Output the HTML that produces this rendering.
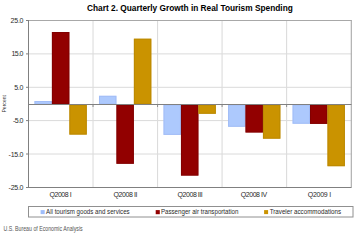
<!DOCTYPE html>
<html><head><meta charset="utf-8"><style>
html,body{margin:0;padding:0;background:#fff;}
body{width:355px;height:234px;position:relative;overflow:hidden;}
</style></head><body>
<svg width="355" height="234" style="position:absolute;left:0;top:0" font-family="Liberation Sans, sans-serif">
<line x1="28" y1="53.9" x2="351.5" y2="53.9" stroke="#DADADA" stroke-width="1"/><line x1="28" y1="87.3" x2="351.5" y2="87.3" stroke="#DADADA" stroke-width="1"/><line x1="28" y1="120.6" x2="351.5" y2="120.6" stroke="#DADADA" stroke-width="1"/><line x1="28" y1="154.0" x2="351.5" y2="154.0" stroke="#DADADA" stroke-width="1"/><line x1="93.03" y1="20.5" x2="93.03" y2="187.5" stroke="#DCDCDC" stroke-width="1.1"/><line x1="157.55" y1="20.5" x2="157.55" y2="187.5" stroke="#DCDCDC" stroke-width="1.1"/><line x1="222.08" y1="20.5" x2="222.08" y2="187.5" stroke="#DCDCDC" stroke-width="1.1"/><line x1="286.60" y1="20.5" x2="286.60" y2="187.5" stroke="#DCDCDC" stroke-width="1.1"/>
<rect x="34.46" y="101.00" width="17.45" height="3.50" fill="#ADC9FD"/><rect x="34.96" y="101.50" width="16.45" height="2.50" fill="none" stroke="#9CB8F4" stroke-width="1" stroke-opacity="0.7"/><rect x="51.91" y="32.00" width="17.45" height="72.50" fill="#920000"/><rect x="52.41" y="32.50" width="16.45" height="71.50" fill="none" stroke="#7C0000" stroke-width="1" stroke-opacity="0.7"/><rect x="69.36" y="104.50" width="17.45" height="30.10" fill="#CA9300"/><rect x="69.86" y="105.00" width="16.45" height="29.10" fill="none" stroke="#B58400" stroke-width="1" stroke-opacity="0.7"/><rect x="98.98" y="95.80" width="17.45" height="8.70" fill="#ADC9FD"/><rect x="99.48" y="96.30" width="16.45" height="7.70" fill="none" stroke="#9CB8F4" stroke-width="1" stroke-opacity="0.7"/><rect x="116.44" y="104.50" width="17.45" height="59.30" fill="#920000"/><rect x="116.94" y="105.00" width="16.45" height="58.30" fill="none" stroke="#7C0000" stroke-width="1" stroke-opacity="0.7"/><rect x="133.88" y="38.70" width="17.45" height="65.80" fill="#CA9300"/><rect x="134.38" y="39.20" width="16.45" height="64.80" fill="none" stroke="#B58400" stroke-width="1" stroke-opacity="0.7"/><rect x="163.51" y="104.50" width="17.45" height="30.40" fill="#ADC9FD"/><rect x="164.01" y="105.00" width="16.45" height="29.40" fill="none" stroke="#9CB8F4" stroke-width="1" stroke-opacity="0.7"/><rect x="180.96" y="104.50" width="17.45" height="71.10" fill="#920000"/><rect x="181.46" y="105.00" width="16.45" height="70.10" fill="none" stroke="#7C0000" stroke-width="1" stroke-opacity="0.7"/><rect x="198.41" y="104.50" width="17.45" height="9.30" fill="#CA9300"/><rect x="198.91" y="105.00" width="16.45" height="8.30" fill="none" stroke="#B58400" stroke-width="1" stroke-opacity="0.7"/><rect x="228.04" y="104.50" width="17.45" height="22.30" fill="#ADC9FD"/><rect x="228.54" y="105.00" width="16.45" height="21.30" fill="none" stroke="#9CB8F4" stroke-width="1" stroke-opacity="0.7"/><rect x="245.49" y="104.50" width="17.45" height="28.00" fill="#920000"/><rect x="245.99" y="105.00" width="16.45" height="27.00" fill="none" stroke="#7C0000" stroke-width="1" stroke-opacity="0.7"/><rect x="262.94" y="104.50" width="17.45" height="34.20" fill="#CA9300"/><rect x="263.44" y="105.00" width="16.45" height="33.20" fill="none" stroke="#B58400" stroke-width="1" stroke-opacity="0.7"/><rect x="292.56" y="104.50" width="17.45" height="19.25" fill="#ADC9FD"/><rect x="293.06" y="105.00" width="16.45" height="18.25" fill="none" stroke="#9CB8F4" stroke-width="1" stroke-opacity="0.7"/><rect x="310.01" y="104.50" width="17.45" height="19.40" fill="#920000"/><rect x="310.51" y="105.00" width="16.45" height="18.40" fill="none" stroke="#7C0000" stroke-width="1" stroke-opacity="0.7"/><rect x="327.46" y="104.50" width="17.45" height="61.70" fill="#CA9300"/><rect x="327.96" y="105.00" width="16.45" height="60.70" fill="none" stroke="#B58400" stroke-width="1" stroke-opacity="0.7"/>
<line x1="28" y1="20.5" x2="351.5" y2="20.5" stroke="#A8A8A8" stroke-width="1.1"/>
<line x1="351.3" y1="20" x2="351.3" y2="187.5" stroke="#A8A8A8" stroke-width="1.1"/>
<line x1="26" y1="20.5" x2="28.5" y2="20.5" stroke="#808080" stroke-width="1"/><line x1="26" y1="53.9" x2="28.5" y2="53.9" stroke="#808080" stroke-width="1"/><line x1="26" y1="87.3" x2="28.5" y2="87.3" stroke="#808080" stroke-width="1"/><line x1="26" y1="120.6" x2="28.5" y2="120.6" stroke="#808080" stroke-width="1"/><line x1="26" y1="154.0" x2="28.5" y2="154.0" stroke="#808080" stroke-width="1"/><line x1="26" y1="187.5" x2="28.5" y2="187.5" stroke="#808080" stroke-width="1"/><line x1="93.03" y1="104" x2="93.03" y2="107" stroke="#909090" stroke-width="1"/><line x1="157.55" y1="104" x2="157.55" y2="107" stroke="#909090" stroke-width="1"/><line x1="222.08" y1="104" x2="222.08" y2="107" stroke="#909090" stroke-width="1"/><line x1="286.60" y1="104" x2="286.60" y2="107" stroke="#909090" stroke-width="1"/>
<line x1="28.5" y1="20" x2="28.5" y2="188" stroke="#808080" stroke-width="1"/>
<line x1="26" y1="187.5" x2="351.5" y2="187.5" stroke="#808080" stroke-width="1"/>
<line x1="28" y1="104.5" x2="351.5" y2="104.5" stroke="#808080" stroke-width="1"/>
<rect x="28.5" y="206.5" width="324.5" height="10.5" fill="none" stroke="#909090" stroke-width="1"/>
<rect x="40.6" y="210.1" width="4.1" height="4.0" fill="#9FBDFA"/>
<rect x="155.7" y="210.1" width="4.1" height="4.1" fill="#920000"/>
<rect x="264.1" y="210.1" width="4.0" height="4.0" fill="#CA9300"/>
<text x="87.0" y="11.0" font-size="8.3" text-anchor="start" textLength="205.8" lengthAdjust="spacingAndGlyphs" font-weight="bold" fill="#000">Chart 2. Quarterly Growth in Real Tourism Spending</text><text x="10.6" y="23.00" font-size="7.0" text-anchor="start" textLength="12.90" lengthAdjust="spacing" fill="#2a2a2a">25.0</text><text x="11.399999999999999" y="56.35" font-size="7.0" text-anchor="start" textLength="12.10" lengthAdjust="spacing" fill="#2a2a2a">15.0</text><text x="14.2" y="90.00" font-size="7.0" text-anchor="start" textLength="9.30" lengthAdjust="spacing" fill="#2a2a2a">5.0</text><text x="12.899999999999999" y="123.00" font-size="7.0" text-anchor="start" textLength="10.60" lengthAdjust="spacing" fill="#2a2a2a">-5.0</text><text x="8.6" y="156.90" font-size="7.0" text-anchor="start" textLength="14.90" lengthAdjust="spacing" fill="#2a2a2a">-15.0</text><text x="8.6" y="189.90" font-size="7.0" text-anchor="start" textLength="14.90" lengthAdjust="spacing" fill="#2a2a2a">-25.0</text><text x="49.5" y="196.9" font-size="7.0" text-anchor="start" textLength="22.20" lengthAdjust="spacing" fill="#2a2a2a">Q2008 I</text><text x="113.60000000000001" y="196.9" font-size="7.0" text-anchor="start" textLength="23.90" lengthAdjust="spacing" fill="#2a2a2a">Q2008 II</text><text x="177.5" y="196.9" font-size="7.0" text-anchor="start" textLength="25.30" lengthAdjust="spacing" fill="#2a2a2a">Q2008 III</text><text x="240.79999999999998" y="196.9" font-size="7.0" text-anchor="start" textLength="26.30" lengthAdjust="spacing" fill="#2a2a2a">Q2008 IV</text><text x="307.7" y="196.9" font-size="7.0" text-anchor="start" textLength="23.40" lengthAdjust="spacing" fill="#2a2a2a">Q2009 I</text><text x="46.1" y="214.0" font-size="6.9" text-anchor="start" textLength="83.60" lengthAdjust="spacingAndGlyphs" fill="#2a2a2a">All tourism goods and services</text><text x="160.9" y="214.0" font-size="6.9" text-anchor="start" textLength="77.60" lengthAdjust="spacingAndGlyphs" fill="#2a2a2a">Passenger air transportation</text><text x="269.7" y="214.0" font-size="6.9" text-anchor="start" textLength="71.40" lengthAdjust="spacingAndGlyphs" fill="#2a2a2a">Traveler accommodations</text><text x="3.5" y="230.6" font-size="6.5" text-anchor="start" textLength="79.2" lengthAdjust="spacingAndGlyphs" fill="#555">U.S. Bureau of Economic Analysis</text><text x="0" y="0" font-size="5.6" textLength="17.6" lengthAdjust="spacingAndGlyphs" fill="#333" transform="translate(5.7,112.6) rotate(-90)">Percent</text>
</svg>
</body></html>
